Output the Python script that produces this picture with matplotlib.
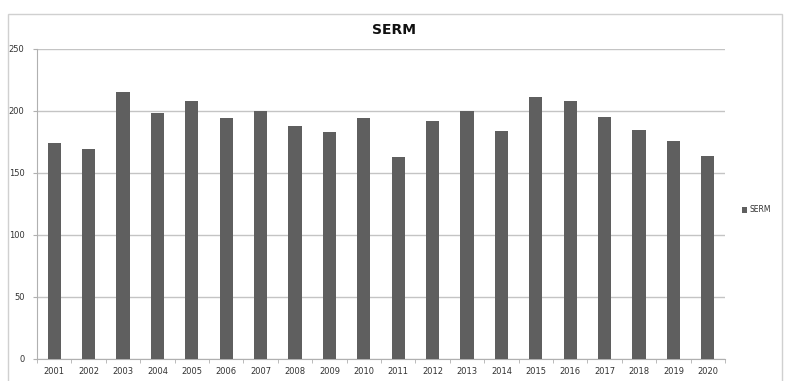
import numpy as np
import matplotlib.pyplot as plt
from matplotlib.patches import Rectangle

# SERM yearly counts
years = [str(y) for y in range(2001, 2021)]
serm = [174, 169, 215, 198, 208, 194, 200, 188, 183, 194,
        163, 192, 200, 184, 211, 208, 195, 185, 176, 164]

bar_color = '#5f5f5f'
grid_color = '#c4c4c4'

fig = plt.figure(figsize=(7.85, 3.81), dpi=100)
fig.patch.set_facecolor('white')

# outer chart frame
fig.patches.append(Rectangle((8 / 785, -0.01), 774 / 785, 1 - 14 / 381 + 0.01,
                             transform=fig.transFigure, fill=False,
                             edgecolor='#d0d0d0', linewidth=1.0))

ax = fig.add_axes([37 / 785, 1 - 359 / 381, 688 / 785, 310 / 381])

x = np.arange(len(years))
ax.bar(x, serm, width=0.38, color=bar_color, label='SERM', zorder=3)

ax.set_xlim(-0.5, len(years) - 0.5)
ax.set_ylim(0, 250)
ax.set_yticks(range(0, 251, 50))
ax.yaxis.grid(True, color=grid_color, linewidth=1.0, zorder=0)

ax.set_xticks(x)
ax.set_xticklabels(years)
ax.set_xticks(np.arange(-0.5, len(years), 1.0), minor=True)
ax.tick_params(axis='x', which='major', length=0, labelsize=6, pad=6, colors='#333333')
ax.tick_params(axis='x', which='minor', length=3, color='#b0b0b0')
ax.tick_params(axis='y', length=3, color='#b0b0b0', labelsize=6, pad=6, labelcolor='#333333')

for side in ['top', 'right']:
    ax.spines[side].set_visible(False)
ax.spines['left'].set_color('#b0b0b0')
ax.spines['bottom'].set_color('#b0b0b0')

fig.text(394 / 785, 1 - 30 / 381, 'SERM', ha='center', va='center',
         fontsize=10, fontweight='bold', color='#111111')

ax.legend(loc='center left', bbox_to_anchor=(738 / 785, 1 - 210 / 381),
          bbox_transform=fig.transFigure, frameon=False, fontsize=5.5,
          handlelength=0.7, handleheight=0.7, handletextpad=0.3,
          borderpad=0, labelcolor='#333333')

fig.savefig('out.png', dpi=100)
